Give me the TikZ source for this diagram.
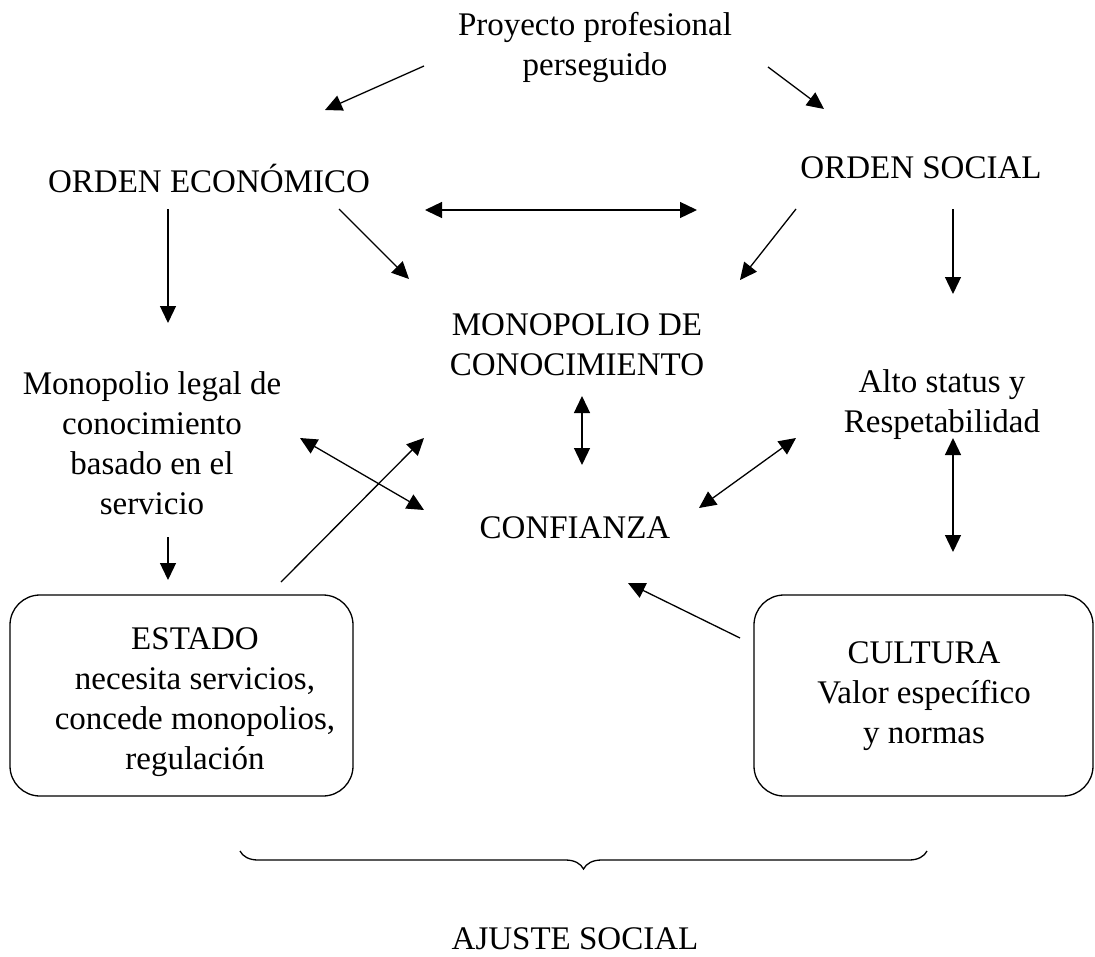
\documentclass[tikz,border=0pt]{standalone}
\usepackage{fontspec}
\setmainfont{Liberation Serif}
\usetikzlibrary{arrows.meta, positioning, decorations.pathreplacing}

\tikzset{
  txt/.style={font=\fontsize{33}{40}\selectfont, align=center, inner sep=0pt},
  box/.style={draw, line width=1.3pt, rounded corners=30pt, inner sep=0pt},
  arr/.style={line width=1.3pt, -{Triangle[length=17pt,width=16pt]}},
  darr/.style={line width=1.3pt, {Triangle[length=17pt,width=16pt]}-{Triangle[length=17pt,width=16pt]}},
}

\begin{document}
\begin{tikzpicture}[x=1pt, y=-1pt]
  \useasboundingbox (0,0) rectangle (1095,956);

  % texts
  \node[txt] (proy) at (595,47.4) {Proyecto profesional\\perseguido};
  \node[txt, anchor=base] (econ) at (209,192) {ORDEN ECONÓMICO};
  \node[txt, anchor=base] (social) at (921,178) {ORDEN SOCIAL};
  \node[txt] (mono) at (577,345) {MONOPOLIO DE\\CONOCIMIENTO};
  \node[txt] (legal) at (152,443.7) {Monopolio legal de\\conocimiento\\basado en el\\servicio};
  \node[txt] (alto) at (942,404.8) {Alto status y\\Respetabilidad};
  \node[txt, anchor=base] (conf) at (575,538) {CONFIANZA};

  % boxes
  \node[box, minimum width=343pt, minimum height=201pt] (estado) at (181.5,695.5) {};
  \node[txt] (estadotxt) at (195,701.7) {ESTADO\\necesita servicios,\\concede monopolios,\\regulación};
  \node[box, minimum width=339pt, minimum height=201pt] (cultura) at (923.5,695.5) {};
  \node[txt] (culturatxt) at (924,695.7) {CULTURA\\Valor específico\\y normas};

  % arrow ends
  \coordinate (proyl) at (424,66);   \coordinate (econin) at (325,110);
  \coordinate (proyr) at (768,67);   \coordinate (socin) at (824,109);
  \coordinate (hl) at (425,210);     \coordinate (hr) at (697,210);
  \coordinate (econr) at (339,209);  \coordinate (monol) at (409,279);
  \coordinate (socl) at (796,209);   \coordinate (monor) at (740,280);
  \coordinate (econd) at (168,209);  \coordinate (legalin) at (168,323);
  \coordinate (socd) at (953,209);   \coordinate (altoin) at (953,294);
  \coordinate (monod) at (582,396);  \coordinate (confu) at (582,465);
  \coordinate (legalr) at (300,438); \coordinate (confl) at (424,510);
  \coordinate (estu) at (281,582);   \coordinate (monoin) at (424,438);
  \coordinate (altol) at (796,438);  \coordinate (confr) at (699,508);
  \coordinate (altod) at (953,438);  \coordinate (cultu) at (953,552);
  \coordinate (legald) at (168,537); \coordinate (estin) at (168,580);
  \coordinate (cultl) at (740,638);  \coordinate (confd) at (628,583);

  % connectors
  \draw[arr] (proyl) -- (econin);
  \draw[arr] (proyr) -- (socin);
  \draw[darr] (hl) -- (hr);
  \draw[arr] (econr) -- (monol);
  \draw[arr] (socl) -- (monor);
  \draw[arr] (econd) -- (legalin);
  \draw[arr] (socd) -- (altoin);
  \draw[darr] (monod) -- (confu);
  \draw[darr] (legalr) -- (confl);
  \draw[arr] (estu) -- (monoin);
  \draw[darr] (altol) -- (confr);
  \draw[darr] (altod) -- (cultu);
  \draw[arr] (legald) -- (estin);
  \draw[arr] (cultl) -- (confd);

  % brace
  \coordinate (brl) at (240,851);
  \coordinate (brr) at (927,851);
  \draw[line width=1.3pt, decorate, decoration={brace, amplitude=18pt, mirror}] (brl) -- (brr);
  \node[txt, anchor=base] (ajuste) at (575,949) {AJUSTE SOCIAL};
\end{tikzpicture}
\end{document}
